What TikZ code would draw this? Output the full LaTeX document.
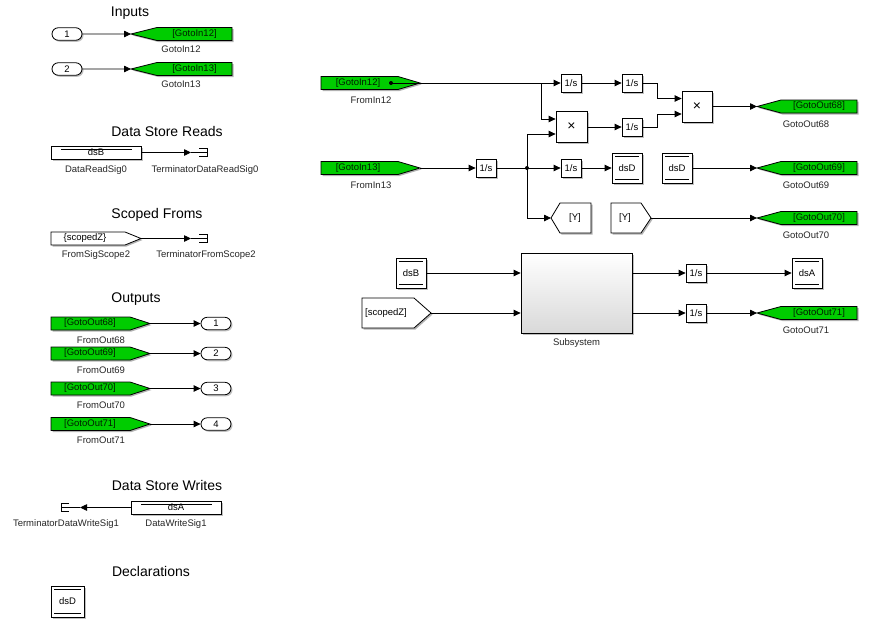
\documentclass[tikz,border=0pt]{standalone}
\usepackage{fontspec}
\setmainfont{Liberation Sans}
\usetikzlibrary{arrows.meta,shapes.misc,shadows}
\definecolor{simgreen}{RGB}{0,204,0}
\definecolor{gtext}{RGB}{0,30,0}

\begin{document}
\begin{tikzpicture}[x=1pt,y=-1pt,>={Triangle[length=7pt,width=6.5pt]},
	every node/.style={font=\fontsize{9.5}{11}\selectfont},
	head/.style={font=\fontsize{14}{16}\selectfont},
	lbl/.style={text=black!85},
	shd/.style={drop shadow={shadow xshift=1.5pt,shadow yshift=-1.5pt,fill=black,opacity=0.25}},
	pshd/.style={preaction={draw=none,fill=black!30,transform canvas={shift={(1.5pt,-1.5pt)}}}},
	blk/.style={draw,fill=white,line width=0.8pt,inner sep=0pt,shd},
	intg/.style={blk,minimum width=20pt,minimum height=18pt},
	prodbox/.style={blk,minimum width=31pt,minimum height=31pt,font=\fontsize{14}{14}\selectfont},
	dsbox/.style={blk,minimum width=30pt,minimum height=30pt,
		path picture={\draw[line width=0.8pt] ([shift={(3pt,-3.5pt)}]path picture bounding box.north west) -- ([shift={(-3pt,-3.5pt)}]path picture bounding box.north east);
			\draw[line width=0.8pt] ([shift={(3pt,3.5pt)}]path picture bounding box.south west) -- ([shift={(-3pt,3.5pt)}]path picture bounding box.south east);}},
	dswide/.style={blk,minimum width=90pt,minimum height=13pt,
		path picture={\draw[line width=0.8pt] ([shift={(10pt,-3pt)}]path picture bounding box.north west) -- ([shift={(-9pt,-3pt)}]path picture bounding box.north east);}},
	port/.style={draw,fill=white,rounded rectangle,line width=0.8pt,minimum width=30pt,minimum height=12.5pt,inner sep=0pt,shd},
	gshape/.style={draw,fill=simgreen,line width=0.8pt,pshd},
	wshape/.style={draw,fill=white,line width=0.8pt,pshd},
	gtxt/.style={text=gtext},
	wire/.style={->,line width=0.8pt},
	term/.style={line width=0.8pt},
	jdot/.style={circle,fill,inner sep=0pt,minimum size=4pt}]
	\useasboundingbox (0,0) rectangle (877,630);

	% Inputs
	\node[head] (hin) at (130,13) {Inputs};
	\node[port] (in1) at (67,34) {1};
	\draw[gshape] (131,34) coordinate (gi12) -- (157,27.5) -- (232,27.5) -- (232,40.5) -- (157,40.5) -- cycle;
	\node[gtxt] (tgi12) at (194.5,34) {[GotoIn12]};
	\node[lbl] (lgi12) at (181,49.5) {GotoIn12};
	\draw[wire] (in1) -- (gi12);
	\node[port] (in2) at (67,69) {2};
	\draw[gshape] (131,69) coordinate (gi13) -- (157,62.5) -- (232,62.5) -- (232,75.5) -- (157,75.5) -- cycle;
	\node[gtxt] (tgi13) at (194.5,69) {[GotoIn13]};
	\node[lbl] (lgi13) at (181,84.5) {GotoIn13};
	\draw[wire] (in2) -- (gi13);

	% Data Store Reads
	\node[head] (hdsr) at (167,131) {Data Store Reads};
	\node[dswide] (dsr0) at (96,152.5) {dsB};
	\node[lbl] (ldsr0) at (96,170) {DataReadSig0};
	\coordinate (tr0) at (191,152.5);
	\draw[wire] (dsr0) -- (tr0);
	\draw[term] (tr0) -- +(16,0) (199,148.5) -- (207,148.5) -- (207,156.5) -- (199,156.5);
	\node[lbl] (ltr0) at (205,170) {TerminatorDataReadSig0};

	% Scoped Froms
	\node[head] (hsf) at (157,215) {Scoped Froms};
	\draw[wshape] (51,232) -- (125,232) -- (141,238.5) coordinate (fs2) -- (125,245) -- (51,245) -- cycle;
	\node (tfs2) at (85,238.5) {\{scopedZ\}};
	\node[lbl] (lfs2) at (96,255) {FromSigScope2};
	\coordinate (tr2) at (191,238.5);
	\draw[wire] (fs2) -- (tr2);
	\draw[term] (tr2) -- +(16,0) (199,234.5) -- (207,234.5) -- (207,242.5) -- (199,242.5);
	\node[lbl] (ltr2) at (206,255) {TerminatorFromScope2};

	% Outputs
	\node[head] (hout) at (136,299) {Outputs};
	\draw[gshape] (51,317) -- (130,317) -- (150,323.5) coordinate (fo68) -- (130,330) -- (51,330) -- cycle;
	\node[gtxt] (tfo68) at (90,323.5) {[GotoOut68]};
	\node[lbl] (lfo68) at (101,340) {FromOut68};
	\node[port] (out1) at (216,323.5) {1};
	\draw[wire] (fo68) -- (out1);
	\draw[gshape] (51,347) -- (130,347) -- (150,353.5) coordinate (fo69) -- (130,360) -- (51,360) -- cycle;
	\node[gtxt] (tfo69) at (90,353.5) {[GotoOut69]};
	\node[lbl] (lfo69) at (101,370) {FromOut69};
	\node[port] (out2) at (216,353.5) {2};
	\draw[wire] (fo69) -- (out2);
	\draw[gshape] (51,382) -- (130,382) -- (150,388.5) coordinate (fo70) -- (130,395) -- (51,395) -- cycle;
	\node[gtxt] (tfo70) at (90,388.5) {[GotoOut70]};
	\node[lbl] (lfo70) at (101,405) {FromOut70};
	\node[port] (out3) at (216,388.5) {3};
	\draw[wire] (fo70) -- (out3);
	\draw[gshape] (51,417.5) -- (130,417.5) -- (150,424) coordinate (fo71) -- (130,430.5) -- (51,430.5) -- cycle;
	\node[gtxt] (tfo71) at (90,424) {[GotoOut71]};
	\node[lbl] (lfo71) at (101,440.5) {FromOut71};
	\node[port] (out4) at (216,424) {4};
	\draw[wire] (fo71) -- (out4);

	% Data Store Writes
	\node[head] (hdsw) at (167,485) {Data Store Writes};
	\node[dswide] (dsw1) at (176,507.5) {dsA};
	\node[lbl] (ldsw1) at (176,524) {DataWriteSig1};
	\coordinate (tw1) at (80,507.5);
	\draw[wire] (dsw1) -- (tw1);
	\draw[term] (tw1) -- (61,507.5) (69,503.5) -- (61,503.5) -- (61,511.5) -- (69,511.5);
	\node[lbl] (ltw1) at (66,524) {TerminatorDataWriteSig1};

	% Declarations
	\node[head] (hdec) at (151,571) {Declarations};
	\node[dsbox,minimum width=33pt,minimum height=31pt] (dsm) at (67.5,601.5) {dsD};

	% model
	\draw[gshape] (321,76.5) -- (398,76.5) -- (420,83) coordinate (fi12) -- (398,89.5) -- (321,89.5) -- cycle;
	\node[gtxt] (tfi12) at (358,83) {[GotoIn12]};
	\node[jdot] (d12) at (391,83) {};
	\node[lbl] (lfi12) at (371,100) {FromIn12};
	\draw[gshape] (321,161.5) -- (398,161.5) -- (420,168) coordinate (fi13) -- (398,174.5) -- (321,174.5) -- cycle;
	\node[gtxt] (tfi13) at (358,168) {[GotoIn13]};
	\node[lbl] (lfi13) at (371,185) {FromIn13};

	\node[intg] (i1) at (571,83) {1/s};
	\node[intg] (i2) at (486,168) {1/s};
	\node[intg] (i3) at (571,168) {1/s};
	\node[intg] (i4) at (632,83) {1/s};
	\node[intg] (i5) at (632,127) {1/s};
	\node[prodbox] (p1) at (571.5,127) {×};
	\node[prodbox,minimum width=30pt] (p2) at (697,106.5) {×};
	\node[dsbox] (dsw2) at (627,168) {dsD};
	\node[dsbox] (dsr2) at (677,168) {dsD};
	\draw[wshape] (551,218) coordinate (gy) -- (560,203) -- (591,203) -- (591,233) -- (560,233) -- cycle;
	\node (tgy) at (575,218) {[Y]};
	\draw[wshape] (611,203) -- (641,203) -- (651,218) coordinate (fy) -- (641,233) -- (611,233) -- cycle;
	\node (tfy) at (625,218) {[Y]};

	\node[dsbox] (dsb) at (411,273) {dsB};
	\draw[wshape] (362,298) -- (414,298) -- (431,313) coordinate (fz) -- (414,328) -- (362,328) -- cycle;
	\node (tfz) at (386,313) {[scopedZ]};
	\node[blk,minimum width=111pt,minimum height=80pt,top color=white,bottom color=black!15] (sub) at (576.5,293) {};
	\node[lbl] (lsub) at (576.5,343) {Subsystem};
	\node[intg] (i6) at (696,273) {1/s};
	\node[intg] (i7) at (696,313) {1/s};
	\node[dsbox] (dsa2) at (807,273) {dsA};

	% gotos on the right
	\draw[gshape] (757,106.5) coordinate (go68) -- (781,100) -- (857,100) -- (857,113) -- (781,113) -- cycle;
	\node[gtxt] (tgo68) at (819,106.5) {[GotoOut68]};
	\node[lbl] (lgo68) at (806,124) {GotoOut68};
	\draw[gshape] (757,168) coordinate (go69) -- (781,161.5) -- (857,161.5) -- (857,174.5) -- (781,174.5) -- cycle;
	\node[gtxt] (tgo69) at (819,168) {[GotoOut69]};
	\node[lbl] (lgo69) at (806,185) {GotoOut69};
	\draw[gshape] (757,218) coordinate (go70) -- (781,211.5) -- (857,211.5) -- (857,224.5) -- (781,224.5) -- cycle;
	\node[gtxt] (tgo70) at (819,218) {[GotoOut70]};
	\node[lbl] (lgo70) at (806,235) {GotoOut70};
	\draw[gshape] (757,313) coordinate (go71) -- (781,306.5) -- (857,306.5) -- (857,319.5) -- (781,319.5) -- cycle;
	\node[gtxt] (tgo71) at (819,313) {[GotoOut71]};
	\node[lbl] (lgo71) at (806,330) {GotoOut71};

	% signals
	\coordinate (b1) at (541,83);
	\node[jdot] (j1) at (527,168) {};
	\draw[line width=0.8pt] (d12.center) -- (fi12);
	\draw[wire] (fi12) -- (i1);
	\draw[wire] (b1) |- (p1.west |- 0,119);
	\draw[wire] (j1.center) |- (p1.west |- 0,134);
	\draw[wire] (fi13) -- (i2);
	\draw[wire] (i2) -- (i3);
	\draw[wire] (j1.center) |- (gy);
	\draw[wire] (i1) -- (i4);
	\draw[wire] (p1) -- (i5);
	\draw[wire] (i4.east) -- ++(15,0) |- (p2.west |- 0,98.5);
	\draw[wire] (i5.east) -- ++(15,0) |- (p2.west |- 0,114);
	\draw[wire] (p2) -- (go68);
	\draw[wire] (i3) -- (dsw2);
	\draw[wire] (dsr2) -- (go69);
	\draw[wire] (fy) -- (go70);
	\draw[wire] (dsb) -- (sub.west |- dsb);
	\draw[wire] (fz) -- (sub.west |- fz);
	\draw[wire] (sub.east |- i6) -- (i6);
	\draw[wire] (sub.east |- i7) -- (i7);
	\draw[wire] (i6) -- (dsa2);
	\draw[wire] (i7) -- (go71);
\end{tikzpicture}
\end{document}
